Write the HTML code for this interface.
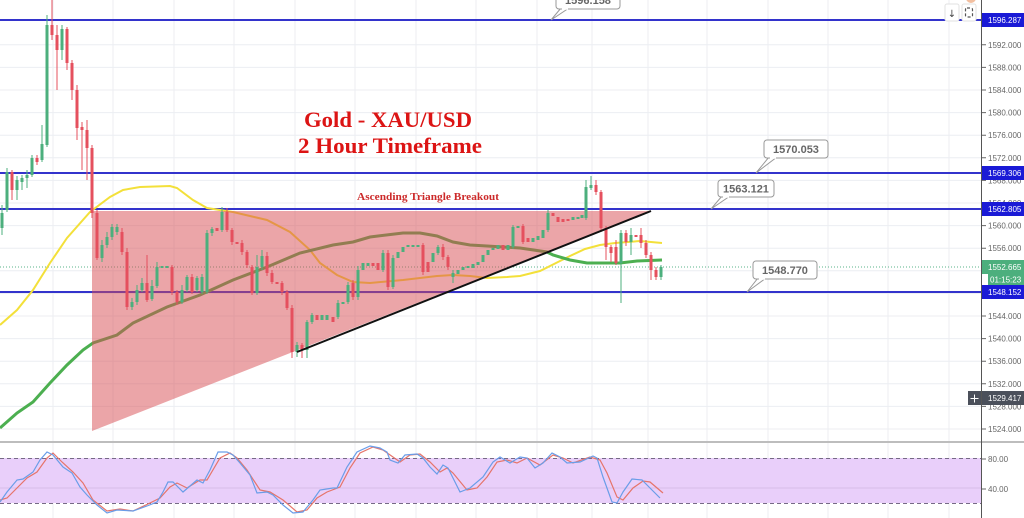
<!DOCTYPE html>
<html><head><meta charset="utf-8"><style>
html,body{margin:0;padding:0;background:#fff;}
svg{display:block;}
</style></head><body>
<svg width="1024" height="518" viewBox="0 0 1024 518" xmlns="http://www.w3.org/2000/svg">
<rect width="1024" height="518" fill="#fff"/>
<!-- vertical grid -->
<g stroke="#eceef2" stroke-width="1">
<path d="M53 0V518M113 0V518M174 0V518M234 0V518M295 0V518M355 0V518M416 0V518M476 0V518M537 0V518M592 0V518M648 0V518M707 0V518M768 0V518M828 0V518M888 0V518M949 0V518"/>
<path d="M0 44.8H981M0 67.4H981M0 90H981M0 112.6H981M0 135.2H981M0 157.8H981M0 180.4H981M0 203H981M0 225.6H981M0 248.2H981M0 270.8H981M0 293.4H981M0 316H981M0 338.6H981M0 361.2H981M0 383.8H981M0 406.4H981M0 429H981"/>
</g>
<!-- current price dotted -->
<line x1="0" y1="267" x2="981" y2="267" stroke="#5ab38a" stroke-width="1" stroke-dasharray="1 2"/>
<!-- blue horizontal levels -->
<g stroke="#3333cc" stroke-width="2">
<line x1="0" y1="20" x2="981" y2="20"/>
<line x1="0" y1="173" x2="981" y2="173"/>
<line x1="0" y1="209" x2="981" y2="209"/>
<line x1="0" y1="292" x2="981" y2="292"/>
</g>
<!-- moving averages -->
<polyline fill="none" stroke="#f3e03a" stroke-width="2" points="0,325 17,310 33,290 50,263 67,238 90,212 110,197 123,190 140,187 170,186 177,188 193,200 207,208 233,212 267,220 290,232 310,250 320,263 337,275 353,282 370,283 403,280 437,276 453,275 470,276 487,278 507,277 520,276 540,271 556,263 570,256 585,249 600,245 615,243 640,241 662,243"/>
<polyline fill="none" stroke="#4caf50" stroke-width="3" points="0,428 17,413 33,402 50,383 67,365 83,350 93,343 117,335 133,323 167,307 200,295 233,280 267,267 300,253 333,245 353,242 370,237 403,233 420,233 437,236 453,242 470,245 487,246 520,248 547,252 553,255 570,260 587,263 603,263 620,263 637,261 662,260"/>
<!-- pink triangle -->
<polygon points="92,211 651,211 92,431" fill="rgb(215,75,81)" fill-opacity="0.5"/>
<!-- candles green -->
<path fill="none" stroke="#4caf7d" stroke-width="1" d="M2 205V235M7 168V212M17 176V200M22 175V190M27 170V188M32 155V177M42 125V162M47 15V147M62 25V60M102 240V262M107 232V248M112 224V240M117 224V235M132 298V310M137 285V305M142 278V292M152 280V301M157 262V288M182 285V304M187 275V292M197 276V292M202 274V294M207 230V294M212 227V236M222 207V232M257 255V295M262 250V270M297 342V357M307 320V358M312 313V324M338 300V319M348 282V304M358 266V300M383 250V272M393 255V289M438 245V255M453 270V283M513 225V249M548 210V232M586 180V220M591 176V190M621 230V303M631 228V255M661 265V280"/>
<g fill="#4caf7d">
<rect x="0.5" y="213" width="3" height="15"/><rect x="5.5" y="172" width="3" height="38"/><rect x="15.5" y="180" width="3" height="10"/><rect x="20.5" y="178" width="3" height="4"/><rect x="25.5" y="175" width="3" height="3"/><rect x="30.5" y="158" width="3" height="17"/><rect x="40.5" y="144" width="3" height="16"/><rect x="45.5" y="25" width="3" height="120"/><rect x="60.5" y="29" width="3" height="21"/>
<rect x="100.5" y="245" width="3" height="13"/><rect x="105.5" y="237" width="3" height="8"/><rect x="110.5" y="227" width="3" height="10"/><rect x="115.5" y="227" width="3" height="5"/><rect x="130.5" y="302" width="3" height="5"/><rect x="135.5" y="290" width="3" height="12"/><rect x="140.5" y="283" width="3" height="7"/><rect x="150.5" y="286" width="3" height="13"/><rect x="155.5" y="267" width="3" height="19"/><rect x="160.5" y="266" width="3" height="2"/><rect x="165.5" y="266" width="3" height="2"/>
<rect x="180.5" y="290" width="3" height="12"/><rect x="185.5" y="277" width="3" height="13"/><rect x="195.5" y="278" width="3" height="12"/><rect x="200.5" y="277" width="3" height="15"/><rect x="205.5" y="233" width="3" height="59"/><rect x="210.5" y="229" width="3" height="4"/><rect x="220.5" y="212" width="3" height="18"/><rect x="255.5" y="267" width="3" height="26"/><rect x="260.5" y="256" width="3" height="11"/>
<rect x="295.5" y="345" width="3" height="7"/><rect x="305.5" y="322" width="3" height="28"/><rect x="310.5" y="315" width="3" height="7"/><rect x="320.5" y="315" width="3" height="5"/><rect x="325.5" y="315" width="3" height="5"/><rect x="336.5" y="303" width="3" height="14"/><rect x="341.5" y="302" width="3" height="2"/><rect x="346.5" y="285" width="3" height="17"/><rect x="356.5" y="270" width="3" height="27"/><rect x="361.5" y="263" width="3" height="7"/><rect x="366.5" y="263" width="3" height="3"/>
<rect x="381.5" y="253" width="3" height="17"/><rect x="391.5" y="258" width="3" height="29"/><rect x="396.5" y="252" width="3" height="6"/><rect x="401.5" y="247" width="3" height="5"/><rect x="406.5" y="245" width="3" height="2"/><rect x="411.5" y="245" width="3" height="2"/><rect x="416.5" y="245" width="3" height="2"/><rect x="431.5" y="253" width="3" height="9"/><rect x="436.5" y="247" width="3" height="6"/>
<rect x="451.5" y="273" width="3" height="4"/><rect x="456.5" y="270" width="3" height="4"/><rect x="461.5" y="267" width="3" height="3"/><rect x="466.5" y="266" width="3" height="2"/><rect x="471.5" y="264" width="3" height="4"/><rect x="476.5" y="262" width="3" height="3"/><rect x="481.5" y="255" width="3" height="7"/><rect x="486.5" y="250" width="3" height="5"/><rect x="491.5" y="248" width="3" height="2"/><rect x="496.5" y="245" width="3" height="4"/><rect x="506.5" y="245" width="3" height="5"/><rect x="511.5" y="227" width="3" height="20"/><rect x="516.5" y="226" width="3" height="2"/>
<rect x="531.5" y="238" width="3" height="4"/><rect x="536.5" y="236" width="3" height="4"/><rect x="541.5" y="230" width="3" height="8"/><rect x="546.5" y="213" width="3" height="17"/><rect x="571.5" y="217" width="3" height="3"/><rect x="576.5" y="217" width="3" height="2"/><rect x="580.5" y="215" width="3" height="3"/><rect x="584.5" y="187" width="3" height="31"/><rect x="589.5" y="185" width="3" height="3"/><rect x="619.5" y="233" width="3" height="30"/><rect x="629.5" y="235" width="3" height="7"/><rect x="659.5" y="267" width="3" height="10"/>
</g>
<!-- candles red -->
<path fill="none" stroke="#e5505e" stroke-width="1" d="M12 170V200M37 155V165M52 0V40M57 25V90M67 27V70M72 60V100M77 85V140M82 122V170M87 120V180M92 145V218M97 210V260M122 228V255M127 248V310M147 255V302M172 265V295M177 290V305M192 274V294M227 208V232M232 228V245M242 240V255M247 250V268M252 265V295M267 252V276M272 270V284M282 281V295M287 290V310M292 305V358M302 343V358M353 280V300M388 250V290M423 243V275M443 244V260M448 255V270M523 224V244M596 180V195M601 190V232M606 226V260M611 245V262M616 240V265M626 230V246M641 228V248M646 240V258M651 252V280M656 267V280"/>
<g fill="#e5505e">
<rect x="10.5" y="172" width="3" height="18"/><rect x="35.5" y="158" width="3" height="4"/><rect x="50.5" y="25" width="3" height="10"/><rect x="55.5" y="35" width="3" height="15"/><rect x="65.5" y="29" width="3" height="34"/><rect x="70.5" y="63" width="3" height="27"/><rect x="75.5" y="90" width="3" height="38"/><rect x="80.5" y="127" width="3" height="3"/><rect x="85.5" y="130" width="3" height="18"/><rect x="90.5" y="148" width="3" height="65"/><rect x="95.5" y="213" width="3" height="45"/>
<rect x="120.5" y="232" width="3" height="20"/><rect x="125.5" y="252" width="3" height="55"/><rect x="145.5" y="283" width="3" height="17"/><rect x="170.5" y="267" width="3" height="25"/><rect x="175.5" y="292" width="3" height="10"/><rect x="190.5" y="277" width="3" height="15"/><rect x="215.5" y="228" width="3" height="3"/><rect x="225.5" y="212" width="3" height="18"/><rect x="230.5" y="230" width="3" height="12"/><rect x="235.5" y="242" width="3" height="2"/><rect x="240.5" y="243" width="3" height="9"/><rect x="245.5" y="252" width="3" height="13"/><rect x="250.5" y="267" width="3" height="26"/>
<rect x="265.5" y="256" width="3" height="17"/><rect x="270.5" y="273" width="3" height="9"/><rect x="275.5" y="282" width="3" height="2"/><rect x="280.5" y="283" width="3" height="9"/><rect x="285.5" y="292" width="3" height="16"/><rect x="290.5" y="308" width="3" height="44"/><rect x="300.5" y="345" width="3" height="5"/><rect x="315.5" y="315" width="3" height="5"/><rect x="331.5" y="317" width="3" height="5"/><rect x="351.5" y="283" width="3" height="14"/><rect x="371.5" y="263" width="3" height="3"/><rect x="376.5" y="263" width="3" height="7"/><rect x="386.5" y="253" width="3" height="34"/>
<rect x="421.5" y="245" width="3" height="27"/><rect x="426.5" y="262" width="3" height="10"/><rect x="441.5" y="247" width="3" height="10"/><rect x="446.5" y="257" width="3" height="10"/><rect x="501.5" y="245" width="3" height="5"/><rect x="521.5" y="226" width="3" height="16"/><rect x="526.5" y="238" width="3" height="4"/><rect x="551.5" y="213" width="3" height="3"/><rect x="556.5" y="217" width="3" height="5"/><rect x="561.5" y="219" width="3" height="3"/><rect x="566.5" y="219" width="3" height="2"/>
<rect x="594.5" y="185" width="3" height="7"/><rect x="599.5" y="192" width="3" height="36"/><rect x="604.5" y="228" width="3" height="19"/><rect x="609.5" y="247" width="3" height="6"/><rect x="614.5" y="247" width="3" height="16"/><rect x="624.5" y="233" width="3" height="9"/><rect x="634.5" y="235" width="3" height="2"/><rect x="639.5" y="235" width="3" height="8"/><rect x="644.5" y="243" width="3" height="12"/><rect x="649.5" y="255" width="3" height="15"/><rect x="654.5" y="270" width="3" height="7"/>
</g>
<!-- black trend line -->
<line x1="297" y1="352" x2="651" y2="211" stroke="#111" stroke-width="2"/>
<!-- titles -->
<text x="304" y="127" font-family="Liberation Serif, serif" font-weight="bold" font-size="22.5" fill="#dc1414" textLength="168" lengthAdjust="spacingAndGlyphs">Gold - XAU/USD</text>
<text x="298" y="153" font-family="Liberation Serif, serif" font-weight="bold" font-size="22.5" fill="#dc1414" textLength="184" lengthAdjust="spacingAndGlyphs">2 Hour Timeframe</text>
<text x="357" y="200" font-family="Liberation Serif, serif" font-weight="bold" font-size="10.5" fill="#cc2a2a" textLength="142" lengthAdjust="spacingAndGlyphs">Ascending Triangle Breakout</text>
<!-- callouts -->
<g font-family="Liberation Sans, sans-serif" font-weight="bold" font-size="11" fill="#666" text-anchor="middle">
<polygon points="561,8 569,8 551,20" fill="#fff" stroke="#999"/>
<rect x="556" y="-10" width="64" height="19" rx="3" fill="#fff" stroke="#999"/>
<line x1="562" y1="9" x2="568" y2="9" stroke="#fff" stroke-width="1.5"/>
<text x="588" y="4">1596.158</text>

<polygon points="769,157 777,157 756,173" fill="#fff" stroke="#999"/>
<rect x="764" y="140" width="64" height="18" rx="3" fill="#fff" stroke="#999"/>
<line x1="770" y1="158" x2="776" y2="158" stroke="#fff" stroke-width="1.5"/>
<text x="796" y="153">1570.053</text>

<polygon points="722,196 730,196 711,209" fill="#fff" stroke="#999"/>
<rect x="718" y="180" width="56" height="17" rx="3" fill="#fff" stroke="#999"/>
<line x1="723" y1="197" x2="729" y2="197" stroke="#fff" stroke-width="1.5"/>
<text x="746" y="192.5">1563.121</text>

<polygon points="758,278 766,278 747,292" fill="#fff" stroke="#999"/>
<rect x="753" y="261" width="64" height="18" rx="3" fill="#fff" stroke="#999"/>
<line x1="759" y1="279" x2="765" y2="279" stroke="#fff" stroke-width="1.5"/>
<text x="785" y="274">1548.770</text>
</g>
<!-- top right buttons -->
<rect x="945" y="4" width="14" height="17" rx="2" fill="#fff" stroke="#e2e2e2"/>
<text x="952" y="17" font-family="DejaVu Sans, sans-serif" font-size="10" fill="#444" text-anchor="middle">↓</text>
<rect x="962" y="4" width="14" height="17" rx="2" fill="#fff" stroke="#e2e2e2"/>
<rect x="965.5" y="8" width="7" height="9" rx="1.5" fill="none" stroke="#555" stroke-width="1.2" stroke-dasharray="3 2"/>
<circle cx="971" cy="-2" r="5" fill="#f2bfa0"/>
<!-- oscillator panel -->
<line x1="0" y1="442" x2="1024" y2="442" stroke="#bdbdbd" stroke-width="2"/>
<rect x="0" y="458" width="981" height="45" fill="#e9cffa"/>
<line x1="0" y1="488" x2="981" y2="488" stroke="#d6bde8" stroke-width="1"/>
<g stroke="#766a86" stroke-width="1" stroke-dasharray="4 3">
<line x1="0" y1="458.5" x2="981" y2="458.5"/>
<line x1="0" y1="503.5" x2="981" y2="503.5"/>
</g>
<polyline fill="none" stroke="#e6746a" stroke-width="1.2" points="0,500 7,498 17,488 27,478 37,472 47,458 53,453 62,462 73,472 83,483 93,500 107,511 120,509 133,511 150,503 160,498 170,487 177,483 187,488 200,480 207,480 220,458 230,453 237,458 247,470 260,490 270,492 283,500 297,512 307,510 317,498 327,492 340,487 350,468 360,453 373,447 383,450 393,457 400,462 410,455 420,454 430,462 440,472 447,468 453,473 467,490 477,488 487,477 497,462 507,460 517,463 527,458 540,465 553,455 563,458 573,463 590,457 600,460 607,473 617,497 623,500 633,488 643,481 650,482 663,493"/>
<polyline fill="none" stroke="#6a9de8" stroke-width="1.2" points="0,502 7,492 17,480 23,479 33,472 40,460 47,452 53,455 63,467 72,473 80,487 87,495 97,505 107,513 117,510 133,511 147,506 157,502 163,492 168,482 173,482 183,492 197,480 203,483 210,470 218,452 227,452 233,455 240,463 250,475 257,493 267,492 273,495 283,505 293,513 303,512 313,500 320,490 333,488 337,488 347,467 357,452 370,446 380,448 387,452 390,460 398,463 405,455 417,454 423,458 430,467 437,474 443,465 448,468 460,492 470,488 483,477 493,462 500,457 510,463 520,457 527,458 535,468 543,463 552,453 560,457 567,463 580,462 593,456 597,458 603,477 612,502 617,503 623,492 632,479 642,480 650,488 660,498"/>
<!-- price axis -->
<line x1="981.5" y1="0" x2="981.5" y2="518" stroke="#555" stroke-width="1"/>
<g stroke="#666" stroke-width="1">
<path d="M982 44.8h4M982 67.4h4M982 90h4M982 112.6h4M982 135.2h4M982 157.8h4M982 180.4h4M982 203h4M982 225.6h4M982 248.2h4M982 270.8h4M982 293.4h4M982 316h4M982 338.6h4M982 361.2h4M982 383.8h4M982 406.4h4M982 429h4M982 459h4M982 489h4"/>
</g>
<g font-family="Liberation Sans, sans-serif" font-size="8" fill="#666">
<text x="988" y="0">1600.000</text>
<text x="988" y="47.8">1592.000</text>
<text x="988" y="70.4">1588.000</text>
<text x="988" y="93">1584.000</text>
<text x="988" y="115.6">1580.000</text>
<text x="988" y="138.2">1576.000</text>
<text x="988" y="160.8">1572.000</text>
<text x="988" y="183.4">1568.000</text>
<text x="988" y="206">1564.000</text>
<text x="988" y="228.6">1560.000</text>
<text x="988" y="251.2">1556.000</text>
<text x="988" y="273.8">1552.000</text>
<text x="988" y="296.4">1548.000</text>
<text x="988" y="319">1544.000</text>
<text x="988" y="341.6">1540.000</text>
<text x="988" y="364.2">1536.000</text>
<text x="988" y="386.8">1532.000</text>
<text x="988" y="409.4">1528.000</text>
<text x="988" y="432">1524.000</text>
<text x="988" y="462">80.00</text>
<text x="988" y="492">40.00</text>
</g>
<!-- axis value boxes -->
<g font-family="Liberation Sans, sans-serif" font-size="8" fill="#fff">
<rect x="982" y="13" width="42" height="14" fill="#1a1ad6"/>
<text x="988" y="23">1596.287</text>
<rect x="982" y="166" width="42" height="14" fill="#1a1ad6"/>
<text x="988" y="176">1569.306</text>
<rect x="982" y="202" width="42" height="14" fill="#1a1ad6"/>
<text x="988" y="212">1562.805</text>
<rect x="982" y="260" width="42" height="14" fill="#4caf7d"/>
<text x="988" y="270">1552.665</text>
<rect x="988" y="274" width="36" height="11" fill="#4caf7d"/>
<text x="990" y="282.5">01:15:23</text>
<rect x="982" y="285" width="42" height="14" fill="#1a1ad6"/>
<text x="988" y="295">1548.152</text>
<rect x="982" y="391" width="42" height="14" fill="#4b505b"/>
<text x="988" y="401">1529.417</text>
<rect x="968" y="391" width="13" height="14" fill="#4b505b"/>
</g>
<path d="M974.5 394.5v8M970.5 398.5h8" stroke="#fff" stroke-width="1"/>
</svg>
</body></html>
